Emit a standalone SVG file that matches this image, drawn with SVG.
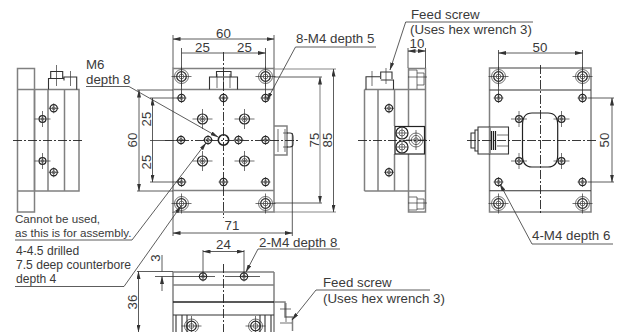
<svg xmlns="http://www.w3.org/2000/svg" width="619" height="332" viewBox="0 0 619 332">
<defs>
<marker id="a" viewBox="0 0 8 4" refX="7.5" refY="2" markerWidth="8" markerHeight="4" orient="auto-start-reverse" markerUnits="userSpaceOnUse"><path d="M0 0L8 2L0 4Z" fill="#333"/></marker>
<g id="hs"><circle r="3.6" class="t"/><circle r="1.5" class="n"/><path d="M-5 0H5M0-5V5" class="n"/></g>
<g id="hc"><circle r="3.4" class="t"/><circle r="1.4" class="n"/><path d="M-8 0H8M0-8V8" class="n"/></g>
<g id="hm"><circle r="5" class="t"/><circle r="2.6" class="n"/><circle r="1" class="n"/><path d="M-10 0H10M0-10V10" class="n"/></g>
<g id="hb"><circle r="7" class="n"/><circle r="4.8" class="t"/><circle r="2.4" class="n"/><path d="M-10 0H10M0-10V10" class="n"/></g>
</defs>
<style>
.o{fill:none;stroke:#808080;stroke-width:1.5}
.k{fill:none;stroke:#333;stroke-width:1.1}
.t{fill:none;stroke:#222;stroke-width:1.2}
.n{fill:none;stroke:#333;stroke-width:.7}
.d{fill:none;stroke:#333;stroke-width:.8}
.g{fill:none;stroke:#888;stroke-width:1.1}
.e{marker-start:url(#a);marker-end:url(#a)}
.l{marker-end:url(#a)}
.c{fill:none;stroke:#222;stroke-width:.9;stroke-dasharray:9 2 2 2}
text{font-family:"Liberation Sans",Arial,sans-serif;font-size:13.3px;fill:#3a3a3a}
.s{font-size:11.6px}
.m{font-size:12.1px}
.v{text-anchor:middle}
</style>
<g id="view-left">
<rect x="17.500" y="68.500" width="17" height="143.500" class="o"/>
<path d="M17.500 89.500H79V191H17.500M34.500 89.500V191M48 89.500V191M64.500 89.500V191" class="o"/>
<path d="M48.500 89.500V78.500H64M50.700 78.500V71.500H62.700V78.500M64 80.500V77H76.700V89.500" class="k"/>
<path d="M56.500 65V86M70.500 71V86" class="n"/>
<use href="#hc" x="42.500" y="119"/><use href="#hc" x="42.500" y="161"/>
<use href="#hs" x="53.700" y="108.300"/><use href="#hs" x="53.700" y="172.300"/>
</g>
<g id="view-top">
<rect x="173" y="68.500" width="101" height="143.500" class="o"/>
<path d="M173 89.500H274M173 190.500H274" class="o"/>
<path d="M209.500 89.500V77H237.500V89.500M216.500 77V71.500H231V77" class="k"/>
<path d="M217 74V88M223.500 74V88M230 74V88" class="n"/>
<use href="#hb" x="181.500" y="76.500"/><use href="#hb" x="265.500" y="76.500"/><use href="#hb" x="181.500" y="203.500"/><use href="#hb" x="265.500" y="203.500"/>
<use href="#hs" x="181.500" y="98"/><use href="#hs" x="223.500" y="98"/><use href="#hs" x="265.500" y="98"/>
<use href="#hs" x="181" y="140"/><use href="#hs" x="208" y="140"/><use href="#hs" x="238.500" y="140"/><use href="#hs" x="265.500" y="140"/>
<use href="#hs" x="181.500" y="182"/><use href="#hs" x="223.500" y="182"/><use href="#hs" x="265.500" y="182"/>
<use href="#hm" x="202.500" y="119"/><use href="#hm" x="244.500" y="119"/><use href="#hm" x="202.500" y="161"/><use href="#hm" x="244.500" y="161"/>
<circle cx="223.500" cy="140" r="5.200" fill="#fff" stroke="#222" style="stroke-width:1.600"/>
<path d="M274 126H287V155H274" class="o"/>
<path d="M287 133H290Q293 133 293 137V144Q293 147 290 147H287" class="k"/>
<path d="M278 129V152M285 129V152M283 133H288M283 147H288" class="n"/>
</g>
<g id="view-right">
<path d="M364.500 89.500H408.500M364.500 191H408.500M364.500 89.500V191M378 89.500V191M394.500 89.500V126M394.500 154V191" class="o"/>
<path d="M408.500 68.500H425.500V212H408.500ZM408.500 89.500H425.500M408.500 191H425.500" class="o"/>
<path d="M366 89.500V76.700H380M380.700 79V72H392V79M380.700 80H393.500V89.500" class="k"/>
<path d="M372 71V86M386 68V84" class="n"/>
<use href="#hs" x="389" y="108.300"/><use href="#hs" x="389" y="172.300"/>
<rect x="395" y="126.500" width="29.500" height="27.500" fill="#fff" stroke="#222" stroke-width="1.200"/>
<circle cx="402" cy="133" r="6" class="t"/><circle cx="402" cy="147" r="6" class="t"/><circle cx="402" cy="133" r="3" class="n"/><circle cx="402" cy="147" r="3" class="n"/>
<circle cx="416" cy="140" r="7" class="n"/><circle cx="416" cy="140" r="4.600" class="n"/><circle cx="416" cy="140" r="2.200" class="n"/>
<path d="M396 133H408M402 127V139M396 147H408M402 141V153M406 140H426M416 130V150" class="n"/>
<path d="M409 70H417V89M417 73H424V85H417M409 210H417V197H409M417 199H424V209H417M408 77H427M408 203H427" class="n"/>
</g>
<g id="view-back">
<rect x="489.500" y="68" width="101.500" height="144" class="o"/>
<path d="M489.500 90H591M489.500 190.700H591" class="k"/>
<use href="#hb" x="498.500" y="76.500"/><use href="#hb" x="582.500" y="76.500"/><use href="#hb" x="498.500" y="203.500"/><use href="#hb" x="582.500" y="203.500"/>
<use href="#hs" x="498.500" y="98"/><use href="#hs" x="582.500" y="98"/><use href="#hs" x="498.500" y="182"/><use href="#hs" x="582.500" y="182"/>
<use href="#hc" x="519" y="119"/><use href="#hc" x="561.500" y="119"/><use href="#hc" x="519" y="161"/><use href="#hc" x="561.500" y="161"/>
<path d="M522.500 125Q522.500 113 532 113H548Q557.700 113 557.700 125V155Q557.700 167 548 167H532Q522.500 167 522.500 155Z" class="t"/>
<path d="M478 127H508.500V154H478ZM478 130H475V151H478M475 133H471V148H475" class="k"/>
<path d="M490 127V154" class="o"/>
<path d="M491.500 131V150M493.500 131V150M495.500 131V150" class="t"/>
<path d="M497 135H508M497 146H508" class="n"/>
</g>
<g id="view-bottom">
<path d="M173 272V332M274 272V332M173 272H274M173 285H274" class="o"/>
<path d="M173 302H274" class="t" style="stroke-width:1.500"/>
<path d="M173 315H274" class="k"/>
<path d="M274 302H285V317H292.500V331" class="o"/>
<path d="M176 315V332M182 315V332M187 315V332M260 315V332M265 315V332M271 315V332" class="k"/>
<use href="#hs" x="203" y="276.500"/><use href="#hs" x="244" y="276.500"/><use href="#hb" x="191.500" y="326"/><use href="#hb" x="255.500" y="326"/>
<path d="M286 303V322M280 309H291M280 323H292" class="n"/>
</g>
<g id="connectors">
<path d="M13 140.500H84M165 140.500H300M358 140.500H430M467 140.500H598" class="c"/>
<path d="M223.500 52V218M540.500 65V215M223.500 264V332" class="c"/>
<path d="M173 35V68M274 35V68M181.500 48V98M265.500 48V98" class="d"/>
<path d="M173 39H274" class="d e"/>
<path d="M223.500 53H181.500M223.500 53H265.500" class="d l"/>
<path d="M137 90H173M137 191H173M150 98H181M150 182H181M150 140.500H181" class="d"/>
<path d="M139 90V191" class="d e"/>
<path d="M152.500 98V140M152.500 140V182" class="d e"/>
<path d="M274 69H336M274 212H336" class="g"/>
<path d="M274 77H322M274 203H322" class="d"/>
<path d="M320 77V203" class="g e"/>
<path d="M333.500 69V212" class="d e"/>
<path d="M173 212V236M292.300 133V236" class="d"/>
<path d="M173 233H292.300" class="d e"/>
<path d="M86 86.500H129L218 137" class="d l"/>
<path d="M376 47H295.500L267 100" class="d l"/>
<path d="M533 22H405.700L390 70" class="d l"/>
<path d="M408 48V68M425.500 48V68" class="d"/>
<path d="M408 51H425.500" class="d e"/>
<path d="M498.500 50V98M582.500 50V98" class="d"/>
<path d="M498.500 53H582.500" class="d e"/>
<path d="M588 98H614M588 182H614" class="d"/>
<path d="M612 98V182" class="d e"/>
<path d="M613 244H532L500 184" class="d l"/>
<path d="M15 240H132L206 143" class="d l"/>
<path d="M15 286.500H124L181 206" class="d l"/>
<path d="M203 250V276M244 250V276" class="d"/>
<path d="M203 251.500H244" class="d e"/>
<path d="M340 249H258L246 272" class="d l"/>
<path d="M137 271.500H173M155 276.500H215M225 276.500H260" class="d"/>
<path d="M162 255V271.500M162 291V276.500" class="d l"/>
<path d="M138.500 271.500V332" class="d e"/>
<path d="M430 290H316L292 320" class="d l"/>
</g>
<g id="labels">
<text x="86" y="68.500">M6</text><text x="86" y="83.500">depth 8</text>
<text class="v" x="223.500" y="38">60</text><text class="v" x="202.500" y="52">25</text><text class="v" x="244.500" y="52">25</text>
<text x="296" y="43">8-M4 depth 5</text>
<text x="411" y="18.500">Feed screw</text><text x="410" y="33.500">(Uses hex wrench 3)</text>
<text class="v" x="417" y="48">10</text><text class="v" x="540" y="52">50</text>
<text class="v" transform="translate(137 140) rotate(-90)">60</text>
<text class="v" transform="translate(151 119) rotate(-90)">25</text><text class="v" transform="translate(151 162) rotate(-90)">25</text>
<text class="v" transform="translate(318.500 140) rotate(-90)">75</text>
<text class="v" transform="translate(331.500 140) rotate(-90)">85</text>
<text class="v" transform="translate(609 140) rotate(-90)">50</text>
<text class="v" x="232" y="230">71</text><text class="v" x="223.500" y="249">24</text>
<text x="259" y="246.500">2-M4 depth 8</text>
<text x="532" y="240">4-M4 depth 6</text>
<text class="s" x="15" y="223">Cannot be used,</text><text class="s" x="15" y="237">as this is for assembly.</text>
<text class="m" x="16" y="254.500">4-4.5 drilled</text><text class="m" x="16" y="268.500">7.5 deep counterbore</text><text class="m" x="16" y="282.500">depth 4</text>
<text class="v" transform="translate(160 258) rotate(-90)">3</text>
<text class="v" transform="translate(137 302) rotate(-90)">36</text>
<text x="323" y="287">Feed screw</text><text x="323" y="303">(Uses hex wrench 3)</text>
</g>
</svg>
